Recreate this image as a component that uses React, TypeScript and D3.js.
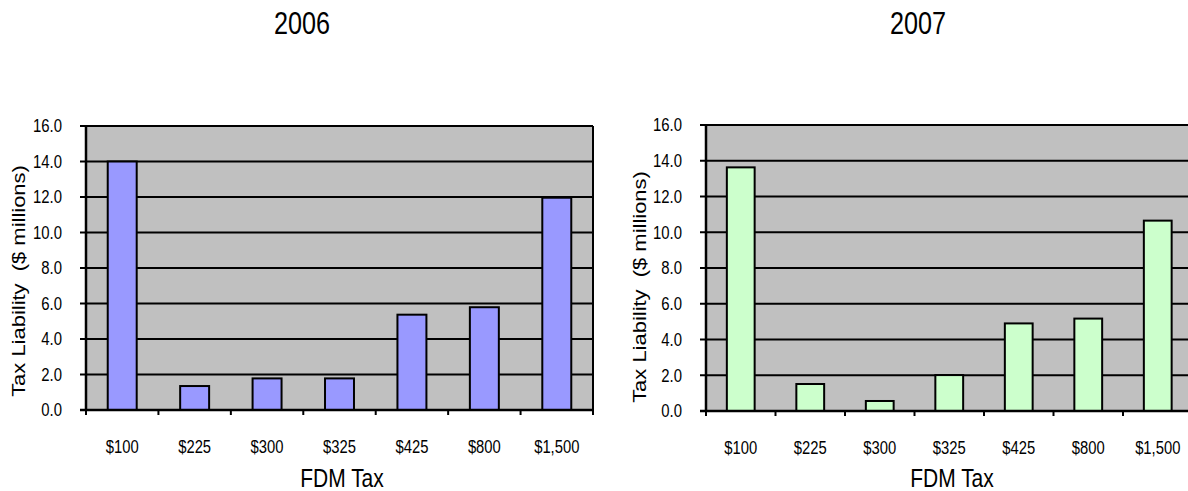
import React from "react";
import * as d3 from "d3";

const categories = ["$100", "$225", "$300", "$325", "$425", "$800", "$1,500"];
const values2006 = [14.0, 1.35, 1.78, 1.78, 5.37, 5.79, 11.96];
const values2007 = [13.63, 1.51, 0.56, 2.01, 4.9, 5.17, 10.65];
const yTicks = [0, 2, 4, 6, 8, 10, 12, 14, 16];
const yTitle = "Tax Liability  ($ millions)";
const xTitle = "FDM Tax";

const FONT = "'Liberation Sans', Arial, Helvetica, sans-serif";
const S = 1.22; // vertical stretch of the text

function Txt({ x, y, size, anchor = "middle", rotate = false, children }: any) {
  return (
    <text
      transform={`translate(${x},${y}) scale(1,${S})${rotate ? " rotate(-90)" : ""}`}
      fontSize={size}
      fontFamily={FONT}
      textAnchor={anchor}
      fill="#000"
      style={{ whiteSpace: "pre" }}
    >
      {children}
    </text>
  );
}

function Chart({ title, values, fill, x0, x1, yTop, yBottom, titleX, yTitleX, yTitleY, xTitleX }: any) {
  const x = d3.scaleBand<string>().domain(categories).range([x0, x1]).paddingInner(0.6).paddingOuter(0.3);
  const y = d3.scaleLinear().domain([0, 16]).range([yBottom, yTop]);
  const step = x.step();
  const bw = x.bandwidth();
  const fmt = d3.format(".1f");
  return (
    <g>
      <Txt x={titleX} y={34} size={25.2}>{title}</Txt>
      <rect x={x0} y={yTop} width={x1 - x0} height={yBottom - yTop} fill="#C0C0C0" />
      {yTicks.map((t) => (
        <line key={"g" + t} x1={x0} x2={x1} y1={y(t)} y2={y(t)} stroke="#000" strokeWidth={2} />
      ))}
      <line x1={x1} x2={x1} y1={yTop} y2={yBottom + 5} stroke="#000" strokeWidth={2} />
      {values.map((v: number, i: number) => (
        <rect
          key={i}
          x={x(categories[i])}
          y={y(v)}
          width={bw}
          height={y(0) - y(v)}
          fill={fill}
          stroke="#000"
          strokeWidth={2}
        />
      ))}
      <line x1={x0} x2={x0} y1={yTop} y2={yBottom} stroke="#000" strokeWidth={2.5} />
      <line x1={x0 - 6} x2={x1} y1={yBottom} y2={yBottom} stroke="#000" strokeWidth={2.5} />
      {yTicks.map((t) => (
        <g key={"t" + t}>
          <line x1={x0 - 6} x2={x0} y1={y(t)} y2={y(t)} stroke="#000" strokeWidth={2} />
          <Txt x={x0 - 24} y={y(t) + 6.3} size={14.9} anchor="end">{fmt(t)}</Txt>
        </g>
      ))}
      {categories.map((c, i) => (
        <line key={"xt" + i} x1={x0 + i * step} x2={x0 + i * step} y1={yBottom} y2={yBottom + 5} stroke="#000" strokeWidth={2} />
      ))}
      {categories.map((c) => (
        <Txt key={"xl" + c} x={(x(c) as number) + bw / 2} y={yBottom + 43} size={14.8}>{c}</Txt>
      ))}
      <Txt x={yTitleX} y={yTitleY} size={18} rotate>{yTitle}</Txt>
      <Txt x={xTitleX} y={487} size={21}>{xTitle}</Txt>
    </g>
  );
}

export default function App() {
  return (
    <svg width={1188} height={491} style={{ position: "absolute", left: 0, top: 0, background: "#fff" }}>
      <rect x={0} y={0} width={1188} height={491} fill="#fff" />
      <Chart
        title="2006"
        values={values2006}
        fill="#9999FF"
        x0={86}
        x1={593}
        yTop={126}
        yBottom={410}
        titleX={302}
        yTitleX={25}
        yTitleY={281}
        xTitleX={342}
      />
      <Chart
        title="2007"
        values={values2007}
        fill="#CCFFCC"
        x0={706}
        x1={1192.5}
        yTop={125}
        yBottom={411}
        titleX={918}
        yTitleX={646}
        yTitleY={287}
        xTitleX={952}
      />
    </svg>
  );
}
